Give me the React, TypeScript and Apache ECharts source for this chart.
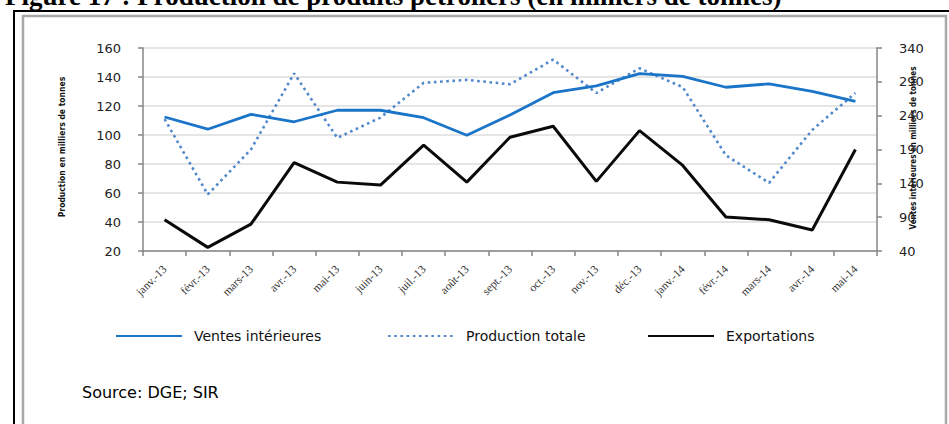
import React, { useEffect, useRef } from "react";
import * as echarts from "echarts";

const categories = [
  "janv.-13", "févr.-13", "mars-13", "avr.-13", "mai-13", "juin-13", "juil.-13", "août-13",
  "sept.-13", "oct.-13", "nov.-13", "déc.-13", "janv.-14", "févr.-14", "mars-14", "avr.-14", "mai-14",
];

// Right axis (Ventes)
const ventesInterieures = [238, 220, 242, 231, 248, 248, 237, 211, 241, 274, 284, 302, 298, 282, 287, 276, 261];
// Left axis
const productionTotale = [111, 59, 90, 142.5, 98, 112, 136, 138, 135, 152, 129, 146, 133, 86, 67, 103.5, 129];
const exportations = [41.5, 22.5, 38.5, 81, 67.5, 65.5, 93, 67.5, 98.5, 106, 68, 103, 79, 43.5, 41.5, 34.5, 90];

const leftTicks = [20, 40, 60, 80, 100, 120, 140, 160];
const rightTicks = [40, 90, 140, 190, 240, 290, 340];

const seriesNames = ["Ventes intérieures", "Production totale", "Exportations"];
const title = "Figure 17 : Production de produits pétroliers (en milliers de tonnes)";
const leftAxisName = "Production en milliers de tonnes";
const rightAxisName = "Ventes intérieures en milliers de tonnes";
const sourceText = "Source: DGE; SIR";

export default function App() {
  const ref = useRef<HTMLDivElement>(null);
  useEffect(() => {
    if (!ref.current) return;
    const chart = echarts.init(ref.current, null, { renderer: "svg" });
    const axisGray = "#868686";
    const legendText = { fontFamily: "DejaVu Sans", fontSize: 14, color: "#111", padding: [0, 0, 0, 7] };
    const legendBase = {
      top: 329,
      padding: 0,
      itemWidth: 66,
      itemHeight: 14,
      itemStyle: { opacity: 0, borderWidth: 0 },
      textStyle: legendText,
    };
    chart.setOption({
      animation: false,
      backgroundColor: "#fff",
      grid: { left: 143, right: 72, top: 48, bottom: 173, containLabel: false },
      xAxis: {
        type: "category",
        data: categories,
        boundaryGap: true,
        axisLine: { lineStyle: { color: axisGray, width: 1.5 } },
        axisTick: { show: true, inside: false, length: 5, lineStyle: { color: axisGray, width: 1.5 } },
        axisLabel: {
          rotate: 45,
          margin: 16,
          interval: 0,
          fontFamily: "Liberation Serif",
          fontSize: 11.5,
          color: "#333",
        },
        splitLine: { show: false },
      },
      yAxis: [
        {
          type: "value",
          min: leftTicks[0],
          max: leftTicks[leftTicks.length - 1],
          interval: 20,
          position: "left",
          axisLine: { show: true, lineStyle: { color: axisGray, width: 1.5 } },
          axisTick: { show: true, length: 5, lineStyle: { color: axisGray, width: 1.5 } },
          axisLabel: { margin: 22, fontFamily: "DejaVu Sans", fontSize: 13, color: "#222" },
          splitLine: { show: true, lineStyle: { color: "#dcdcdc", width: 1.5 } },
        },
        {
          type: "value",
          min: rightTicks[0],
          max: rightTicks[rightTicks.length - 1],
          position: "right",
          axisLine: { show: true, lineStyle: { color: axisGray, width: 1.5 } },
          axisTick: { show: true, length: 5, customValues: rightTicks, lineStyle: { color: axisGray, width: 1.5 } },
          axisLabel: { margin: 22, customValues: rightTicks, fontFamily: "DejaVu Sans", fontSize: 13, color: "#222" },
          splitLine: { show: false },
        },
      ],
      legend: [
        { ...legendBase, left: 115, data: [seriesNames[0]] },
        { ...legendBase, left: 387, data: [seriesNames[1]] },
        { ...legendBase, left: 647, data: [seriesNames[2]] },
      ],
      series: [
        {
          name: seriesNames[1],
          type: "line",
          yAxisIndex: 0,
          data: productionTotale,
          symbol: "none",
          lineStyle: { color: "#5188cc", width: 2.6, type: [2.6, 3.6], cap: "butt" },
          itemStyle: { color: "#5188cc" },
          z: 2,
        },
        {
          name: seriesNames[0],
          type: "line",
          yAxisIndex: 1,
          data: ventesInterieures,
          symbol: "none",
          lineStyle: { color: "#1a74c8", width: 2.8 },
          itemStyle: { color: "#1a74c8" },
          z: 3,
        },
        {
          name: seriesNames[2],
          type: "line",
          yAxisIndex: 0,
          data: exportations,
          symbol: "none",
          lineStyle: { color: "#0a0a0a", width: 3 },
          itemStyle: { color: "#0a0a0a" },
          z: 4,
        },
      ],
      graphic: [
        {
          type: "rect",
          shape: { x: 14, y: 11, width: 960, height: 440 },
          style: { fill: "none", stroke: "#000", lineWidth: 2 },
          silent: true,
        },
        {
          type: "rect",
          shape: { x: 23, y: 16, width: 923, height: 440 },
          style: { fill: "none", stroke: "#a8a8a8", lineWidth: 2.5 },
          silent: true,
        },
        {
          type: "text",
          x: 5,
          y: -18,
          style: {
            text: title,
            fontFamily: "Liberation Serif",
            fontWeight: "bold",
            fontSize: 27,
            fill: "#000",
            align: "left",
            verticalAlign: "top",
          },
          silent: true,
        },
        {
          type: "text",
          x: 62,
          y: 147,
          rotation: Math.PI / 2,
          style: {
            text: leftAxisName,
            fontFamily: "'DejaVu Sans Condensed', 'DejaVu Sans'",
            fontWeight: "bold",
            fontSize: 8.5,
            fill: "#111",
            align: "center",
            verticalAlign: "middle",
          },
          silent: true,
        },
        {
          type: "text",
          x: 913,
          y: 148,
          rotation: Math.PI / 2,
          style: {
            text: rightAxisName,
            fontFamily: "'DejaVu Sans Condensed', 'DejaVu Sans'",
            fontWeight: "bold",
            fontSize: 8,
            fill: "#111",
            align: "center",
            verticalAlign: "middle",
          },
          silent: true,
        },
        {
          type: "text",
          x: 82,
          y: 392,
          style: {
            text: sourceText,
            fontFamily: "DejaVu Sans",
            fontSize: 16,
            fill: "#000",
            align: "left",
            verticalAlign: "middle",
          },
          silent: true,
        },
      ],
    });
    return () => chart.dispose();
  }, []);
  return (
    <div
      ref={ref}
      style={{ position: "fixed", left: 0, top: 0, width: 949, height: 424, background: "#fff" }}
    />
  );
}
